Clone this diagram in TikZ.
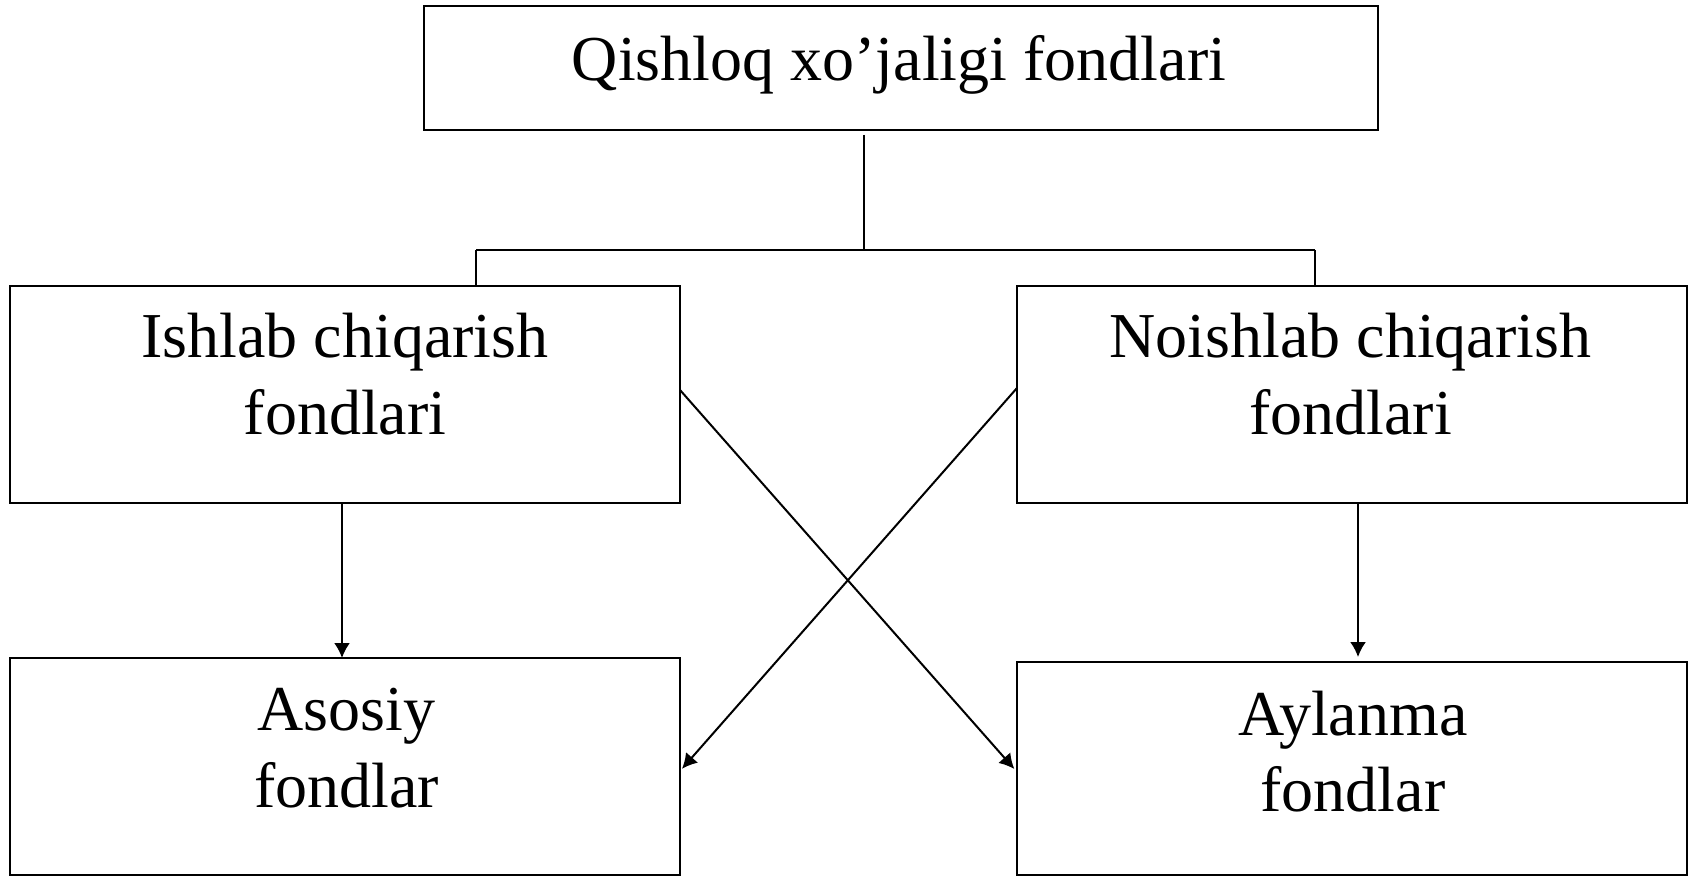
\documentclass[tikz,border=0pt]{standalone}
\usepackage{fontspec}
\setmainfont{Liberation Serif}
\usetikzlibrary{arrows.meta}
\begin{document}
\begin{tikzpicture}[x=0.5pt,y=-0.5pt,
  box/.style={draw, line width=1pt, rectangle, inner sep=0pt, outer sep=0pt},
  txt/.style={inner sep=0pt, outer sep=0pt, align=center, font=\fontsize{32}{38.3}\selectfont},
  conn/.style={line width=1pt},
  arr/.style={line width=1pt, -{Latex[length=7.5pt,width=8pt]}}]
\useasboundingbox (0,0) rectangle (1696,876);
% boxes
\node[box, minimum width=477pt, minimum height=61.75pt] (top) at (900.5,68.25) {};
\node[box, minimum width=335pt, minimum height=108.5pt] (ishlab) at (345,394.5) {};
\node[box, minimum width=335pt, minimum height=108.5pt] (noish) at (1352,394.5) {};
\node[box, minimum width=335pt, minimum height=108.25pt] (asosiy) at (345,766.25) {};
\node[box, minimum width=335pt, minimum height=106.25pt] (aylanma) at (1352,768.25) {};
% texts
\node[txt, anchor=base] (toptxt) at (899,81) {Qishloq xo’jaligi fondlari};
\node[txt] (ishlabtxt) at (345,374) {Ishlab chiqarish\\fondlari};
\node[txt] (noishtxt) at (1350.5,374) {Noishlab chiqarish\\fondlari};
\node[txt] (asosiytxt) at (346.5,748) {Asosiy\\fondlar};
\node[txt] (aylanmatxt) at (1353,751.5) {Aylanma\\fondlar};
% tree connectors
\coordinate (hub) at (864,250);
\coordinate (lhub) at (476,250);
\coordinate (rhub) at (1315,250);
\draw[conn, shorten <=2.5pt] (hub |- top.south) -- (hub);
\draw[conn] (lhub) -- (rhub);
\draw[conn] (lhub) -- (lhub |- ishlab.north);
\draw[conn] (rhub) -- (rhub |- noish.north);
% arrows
\draw[arr] ([xshift=-1.5pt]ishlab.south) -- ([xshift=-1.5pt]asosiy.north);
\draw[arr, shorten >=2.5pt] ([xshift=3pt]noish.south) -- ([xshift=3pt]aylanma.north);
\draw[arr, shorten >=2pt] ([yshift=2.25pt]ishlab.east) -- ([yshift=-1.9pt]aylanma.west);
\draw[arr, shorten >=1.5pt] ([yshift=3.25pt]noish.west) -- ([yshift=-2.4pt]asosiy.east);
\end{tikzpicture}
\end{document}
